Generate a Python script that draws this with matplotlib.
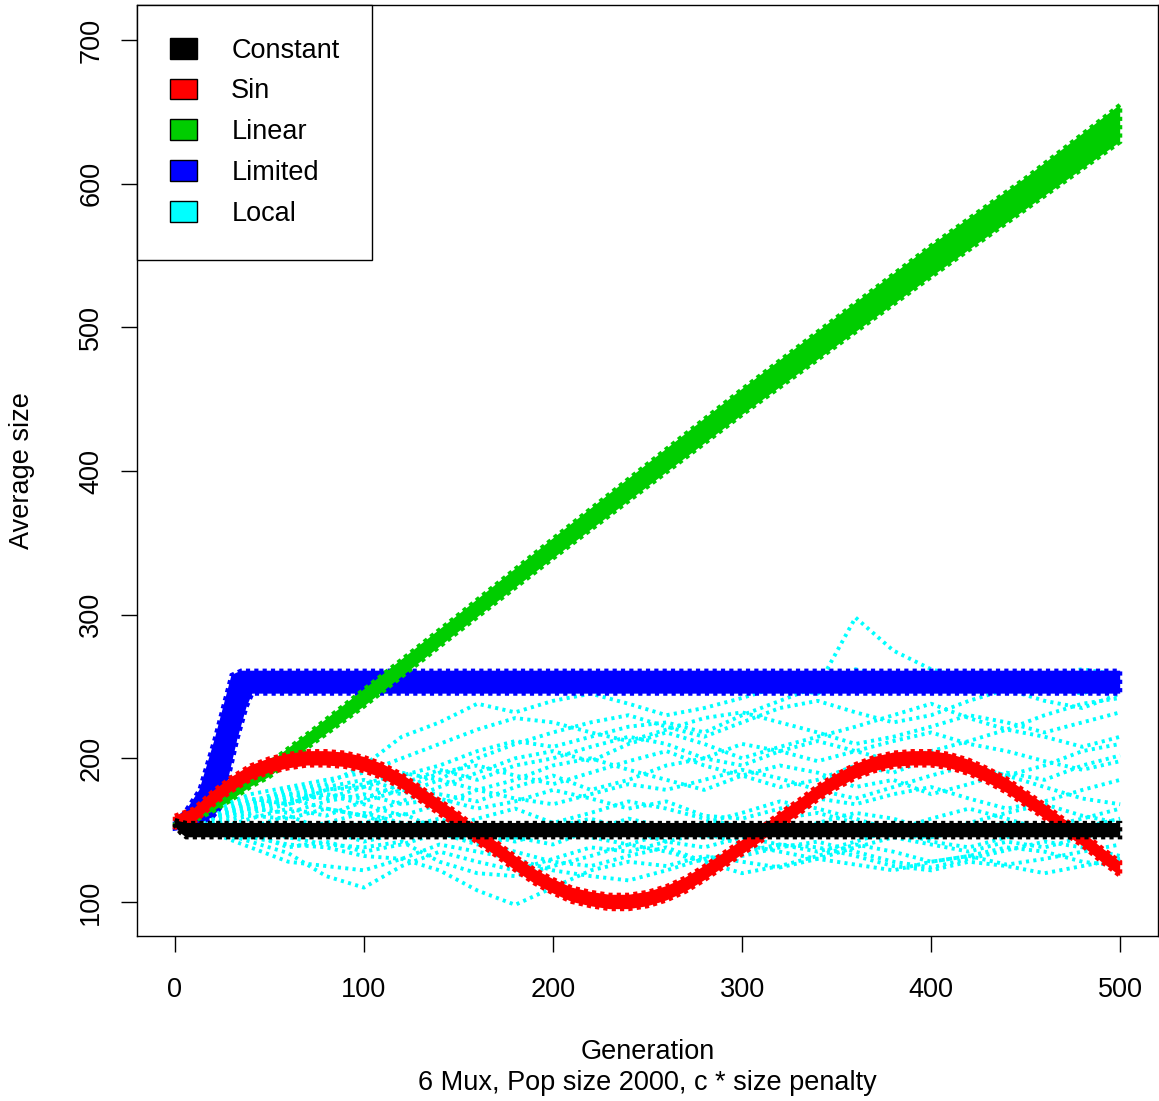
import numpy as np
import matplotlib
matplotlib.use("Agg")
import matplotlib.pyplot as plt
from matplotlib.patches import Patch

plt.rcParams['font.family'] = ['Liberation Sans', 'DejaVu Sans']

# ---- data ----
# Constant: flat band
gen_const = [0, 3, 6, 500]
const_mid = [155, 152, 150, 150]
const_half = [2, 4, 5, 5]

# Sin: every 10 generations
gen_sin = list(range(0, 501, 10))
sin_mid = [155, 160, 172, 182, 190, 195, 198, 200, 200, 199,
           196, 191, 184, 175, 166, 157, 146, 137, 127, 118,
           111, 105, 102, 100, 100, 102, 106, 112, 120, 129,
           138, 147, 157, 166, 176, 184, 191, 196, 199, 200,
           200, 198, 194, 188, 181, 172, 163, 153, 144, 133, 123]
sin_half = 5

# Linear
gen_lin = [0, 10, 20, 30, 40, 50, 75, 100, 150, 200, 250, 300, 350, 400, 450, 500]
lin_mid = [155, 158, 166, 175, 184, 192, 217, 242, 294, 346, 397, 448, 497, 546, 593, 642]
lin_half = [1, 2, 3, 4, 4, 5, 5, 6, 6, 7, 8, 9, 10, 11, 11, 13]

# Limited: upper and lower edge of the cloud
gen_lim_up = [0, 5, 13, 21, 30, 35, 500]
lim_up = [156, 162, 178, 213, 258, 261, 261]
gen_lim_lo = [0, 10, 20, 25, 29, 33, 38, 41, 500]
lim_lo = [151, 153, 159, 167, 190, 213, 236, 245, 245]

# Local: individual runs, every 20 generations
gen_loc = list(range(0, 501, 20))
local_runs = [
    [155, 150, 142, 134, 118, 110, 125, 135, 128, 122, 130, 138, 135, 142, 148, 140, 135, 130, 138, 145, 140, 135, 142, 138, 145, 150],
    [155, 152, 145, 140, 138, 132, 130, 122, 108, 98, 110, 122, 128, 125, 132, 128, 124, 130, 126, 122, 128, 132, 126, 130, 135, 140],
    [155, 158, 150, 145, 140, 138, 142, 128, 120, 118, 125, 132, 140, 135, 128, 132, 138, 142, 135, 128, 124, 130, 136, 142, 138, 132],
    [155, 160, 165, 162, 170, 175, 168, 172, 165, 170, 178, 172, 165, 170, 160, 158, 165, 172, 168, 175, 180, 172, 165, 170, 178, 185],
    [155, 162, 170, 175, 180, 185, 178, 190, 195, 188, 182, 190, 198, 205, 195, 188, 180, 185, 195, 190, 200, 195, 188, 195, 205, 210],
    [155, 165, 175, 180, 185, 190, 200, 210, 220, 228, 225, 218, 212, 220, 228, 232, 225, 218, 210, 215, 222, 230, 225, 218, 225, 232],
    [155, 160, 170, 178, 182, 195, 215, 225, 238, 232, 240, 245, 238, 230, 235, 242, 250, 245, 262, 255, 248, 252, 258, 250, 245, 255],
    [155, 158, 165, 172, 178, 180, 188, 195, 205, 212, 208, 215, 222, 225, 218, 230, 240, 250, 298, 275, 262, 255, 250, 258, 262, 258],
    [155, 150, 158, 165, 160, 170, 178, 175, 170, 180, 188, 178, 185, 195, 200, 210, 205, 198, 205, 212, 218, 210, 205, 198, 192, 198],
    [155, 148, 152, 160, 150, 155, 162, 150, 158, 165, 155, 162, 170, 165, 158, 152, 148, 155, 162, 158, 150, 155, 162, 168, 160, 155],
    [155, 150, 148, 145, 150, 142, 148, 155, 150, 145, 140, 150, 158, 152, 145, 150, 158, 162, 155, 148, 145, 150, 155, 148, 152, 158],
    [155, 165, 172, 168, 178, 182, 190, 185, 200, 210, 218, 225, 230, 222, 215, 225, 235, 240, 232, 225, 230, 240, 248, 240, 235, 245],
    [155, 158, 162, 168, 175, 168, 160, 168, 178, 185, 195, 200, 192, 185, 178, 188, 195, 190, 180, 185, 175, 182, 190, 185, 195, 202],
    [155, 152, 148, 138, 142, 135, 140, 148, 142, 135, 128, 125, 132, 138, 128, 120, 125, 132, 140, 135, 128, 132, 138, 135, 128, 125],
    [155, 160, 168, 175, 172, 180, 175, 185, 178, 172, 168, 175, 182, 178, 185, 192, 186, 178, 172, 180, 188, 195, 188, 180, 172, 168],
    [155, 155, 160, 158, 165, 160, 152, 158, 148, 142, 150, 145, 140, 148, 155, 162, 170, 165, 158, 150, 142, 138, 145, 152, 158, 165],
    [155, 162, 168, 172, 165, 160, 170, 180, 190, 200, 205, 198, 210, 218, 210, 200, 208, 215, 222, 230, 238, 228, 220, 230, 238, 242],
    [155, 150, 145, 150, 155, 162, 155, 148, 140, 145, 152, 158, 150, 142, 138, 145, 140, 135, 142, 150, 158, 165, 158, 150, 145, 148],
    [155, 158, 165, 170, 175, 172, 182, 192, 185, 195, 200, 208, 215, 210, 200, 195, 205, 212, 205, 198, 205, 212, 220, 215, 208, 215],
    [155, 148, 138, 128, 125, 122, 130, 140, 135, 130, 122, 118, 115, 122, 130, 135, 140, 138, 132, 125, 122, 128, 125, 120, 125, 130],
]

labels = ['Constant', 'Sin', 'Linear', 'Limited', 'Local']
colors = ['#000000', '#FF0000', '#00CD00', '#0000FF', '#00FFFF']

FS = 19.5


def band(ax, x, mid, half, color, z):
    x = np.asarray(x, float)
    mid = np.asarray(mid, float)
    half = np.broadcast_to(np.asarray(half, float), mid.shape)
    xs = np.concatenate([x, x[::-1]])
    ys = np.concatenate([mid + half, (mid - half)[::-1]])
    ax.fill(xs, ys, facecolor=color, edgecolor=color, linewidth=3,
            linestyle=(0, (1, 1)), zorder=z)


fig = plt.figure(figsize=(11.59, 11.01), dpi=100)
ax = fig.add_axes([137 / 1159, 1 - 936 / 1101, (1158 - 137) / 1159, (936 - 5) / 1101])

# Local runs (drawn first, underneath)
for run in local_runs:
    ax.plot(gen_loc, run, color=colors[4], lw=2.8, ls=(0, (0.8, 1.1)), zorder=1)

# Limited cloud
xs = np.concatenate([gen_lim_up, gen_lim_lo[::-1]])
ys = np.concatenate([lim_up, lim_lo[::-1]])
ax.fill(xs, ys, facecolor=colors[3], edgecolor=colors[3], linewidth=3,
        linestyle=(0, (1, 1)), zorder=2)

band(ax, gen_lin, lin_mid, lin_half, colors[2], 3)
band(ax, gen_sin, sin_mid, sin_half, colors[1], 4)
band(ax, gen_const, const_mid, const_half, colors[0], 5)

ax.set_xlim(-20, 520)
ax.set_ylim(76.3, 724.4)
ax.set_xticks([0, 100, 200, 300, 400, 500])
ax.set_yticks([100, 200, 300, 400, 500, 600, 700])
ax.tick_params(direction='out', length=11.5, width=1, labelsize=FS)
ax.tick_params(axis='x', pad=18)
ax.tick_params(axis='y', labelrotation=90, pad=12)
for lab in ax.get_yticklabels():
    lab.set_verticalalignment('center')
for sp in ax.spines.values():
    sp.set_linewidth(1)

fig.text(647.5 / 1159, 1 - 1052 / 1101, 'Generation', ha='center', va='center', fontsize=FS)
fig.text(647.5 / 1159, 1 - 1083 / 1101, '6 Mux, Pop size 2000, c * size penalty',
         ha='center', va='center', fontsize=FS)
fig.text(22 / 1159, 1 - 470.5 / 1101, 'Average size', ha='center', va='center',
         rotation=90, fontsize=FS)

handles = [Patch(facecolor=c, edgecolor='black', linewidth=1) for c in colors]
leg = ax.legend(handles, labels, loc='upper left', borderaxespad=0, fancybox=False,
                edgecolor='black', framealpha=1, fontsize=FS, handlelength=1.03,
                handleheight=0.81, handletextpad=1.25, borderpad=1.2, labelspacing=0.55)
leg.get_frame().set_linewidth(1)
leg.set_zorder(10)

fig.savefig('out.png', dpi=100)
